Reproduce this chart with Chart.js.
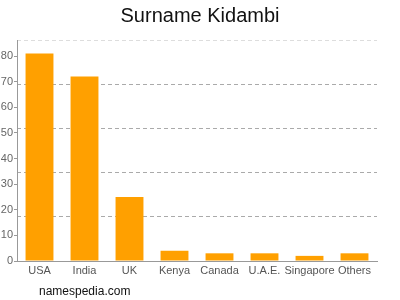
<!DOCTYPE html>
<html>
<head>
<meta charset="utf-8">
<script src="https://cdn.jsdelivr.net/npm/chart.js@4/dist/chart.umd.min.js"></script>
<style>
    html, body { margin: 0; padding: 0; background: #ffffff; }
    #wrap { position: relative; width: 400px; height: 300px; }
    #credit {
        position: absolute; left: 39px; top: 284px;
        font-family: "Liberation Sans", Arial, sans-serif;
        font-size: 12px; color: #111;
    }
</style>
</head>
<body>
<div id="wrap">
    <canvas id="surnameChart" width="400" height="300"></canvas>
    <div id="credit">namespedia.com</div>
</div>
<script>
const countries = ["USA", "India", "UK", "Kenya", "Canada", "U.A.E.", "Singapore", "Others"];
const counts = [81, 72, 25, 4, 3, 3, 2, 3];
const yTicks = [0, 10, 20, 30, 40, 50, 60, 70, 80];
const yMax = 86.25;
const gridSteps = 5;

const font = "'Liberation Sans', Arial, sans-serif";

function drawSurnameChart() {
    const ctx = document.getElementById("surnameChart").getContext("2d");

    new Chart(ctx, {
        type: "bar",
        data: {
            labels: countries,
            datasets: [{
                data: counts,
                backgroundColor: "#ffa000",
                borderWidth: 0,
                barPercentage: 0.62,
                categoryPercentage: 1
            }]
        },
        options: {
            responsive: false,
            animation: false,
            layout: { padding: 0 },
            plugins: {
                legend: { display: false },
                tooltip: { enabled: false },
                title: {
                    display: true,
                    text: "Surname Kidambi",
                    color: "#111",
                    font: { family: font, size: 20, weight: "normal" },
                    padding: { top: 4, bottom: 12 }
                }
            },
            scales: {
                x: {
                    grid: { display: false, drawTicks: false },
                    border: { display: true, color: "#999" },
                    ticks: { color: "#555", font: { family: font, size: 11 }, padding: 3, maxRotation: 0, autoSkip: false },
                    afterFit: scale => { scale.height = 39; }
                },
                y: {
                    position: "left",
                    weight: 0,
                    min: 0,
                    max: yMax,
                    grid: { display: true, drawOnChartArea: false, drawTicks: true, tickLength: 3, color: "#999" },
                    border: { display: true, color: "#999" },
                    ticks: { color: "#666", font: { family: font, size: 11 }, padding: 1 },
                    afterBuildTicks: scale => { scale.ticks = yTicks.map(v => ({ value: v })); },
                    afterFit: scale => { scale.width = 17; }
                },
                yGrid: {
                    position: "left",
                    weight: 1,
                    min: 0,
                    max: yMax,
                    grid: {
                        display: true,
                        drawTicks: false,
                        color: c => (c.index === 0 ? "rgba(0,0,0,0)" : c.index === gridSteps ? "#dddddd" : "#aaaaaa")
                    },
                    border: { display: false, dash: [4, 3] },
                    ticks: { display: false },
                    afterBuildTicks: scale => {
                        const t = [];
                        for (let i = 0; i <= gridSteps; i++) t.push({ value: yMax * i / gridSteps });
                        scale.ticks = t;
                    },
                    afterFit: scale => { scale.width = 0; }
                },
                // empty right-hand spacer so the title stays centred on the canvas
                ySpacer: {
                    position: "right",
                    min: 0,
                    max: yMax,
                    grid: { display: false, drawTicks: false },
                    border: { display: false },
                    ticks: { display: false },
                    afterFit: scale => { scale.width = 23; }
                }
            }
        }
    });
}

drawSurnameChart();
</script>
</body>
</html>
